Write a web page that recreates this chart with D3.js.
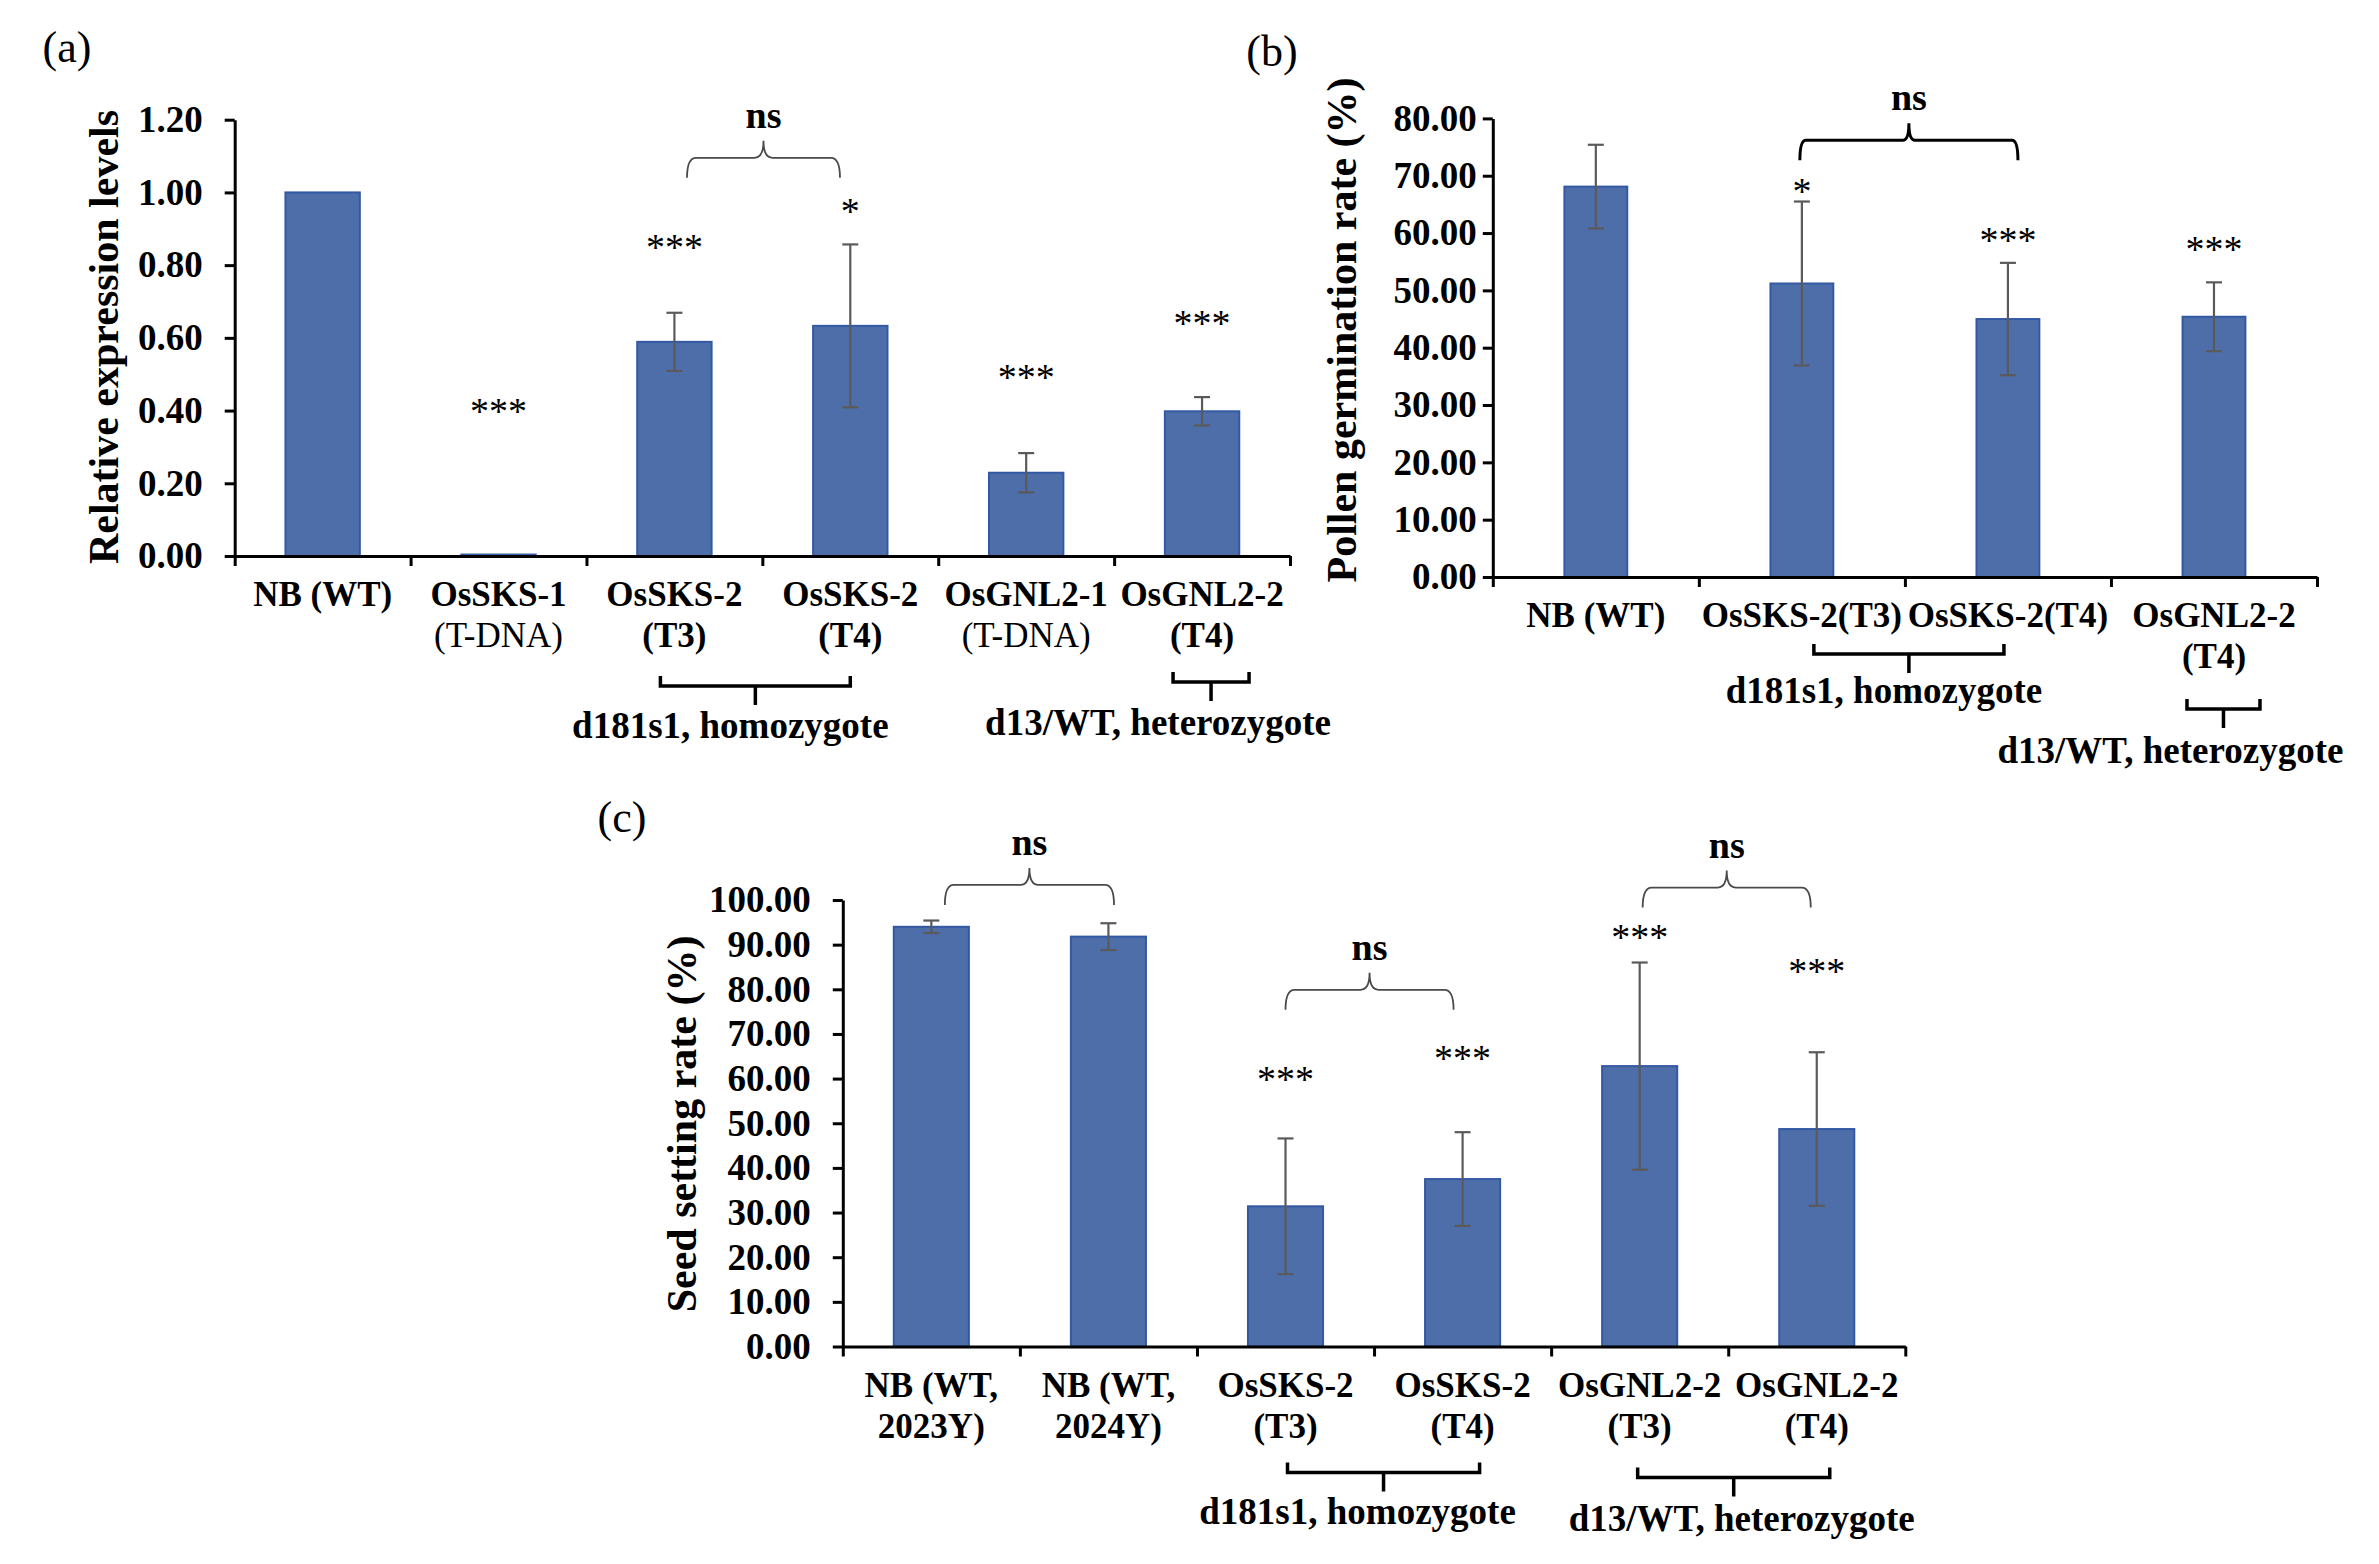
<!DOCTYPE html>
<html>
<head>
<meta charset="utf-8">
<script src="https://cdn.jsdelivr.net/npm/d3@7"></script>
<style>
  body { margin: 0; background: #fff; }
  svg { display: block; }
  text { font-family: "Liberation Serif", "Times New Roman", serif; fill: #000; }
</style>
</head>
<body>
<svg id="fig" width="2379" height="1564"></svg>
<script>
// ---- data: (a) relative expression levels
const catsA = [["NB (WT)"], ["OsSKS-1", "(T-DNA)"], ["OsSKS-2", "(T3)"], ["OsSKS-2", "(T4)"], ["OsGNL2-1", "(T-DNA)"], ["OsGNL2-2", "(T4)"]];
const valsA = [1.0, 0.004, 0.589, 0.633, 0.229, 0.398];
const errsA = [0, 0, 0.08, 0.224, 0.054, 0.039];
const sigA = ["", "***", "***", "*", "***", "***"];
const ticksA = [0, 0.2, 0.4, 0.6, 0.8, 1.0, 1.2];
const groupsA = ["d181s1, homozygote", "d13/WT, heterozygote"];
const groupSpanA = [[2, 3], [5, 5]];
const nsPairsA = [[2, 3]];

// ---- data: (b) pollen germination rate
const catsB = [["NB (WT)"], ["OsSKS-2(T3)"], ["OsSKS-2(T4)"], ["OsGNL2-2", "(T4)"]];
const valsB = [68.1, 51.2, 45.0, 45.4];
const errsB = [7.3, 14.3, 9.8, 6.0];
const sigB = ["", "*", "***", "***"];
const ticksB = [0, 10, 20, 30, 40, 50, 60, 70, 80];
const groupsB = ["d181s1, homozygote", "d13/WT, heterozygote"];
const groupSpanB = [[1, 2], [3, 3]];
const nsPairsB = [[1, 2]];

// ---- data: (c) seed setting rate
const catsC = [["NB (WT,", "2023Y)"], ["NB (WT,", "2024Y)"], ["OsSKS-2", "(T3)"], ["OsSKS-2", "(T4)"], ["OsGNL2-2", "(T3)"], ["OsGNL2-2", "(T4)"]];
const valsC = [94.0, 91.8, 31.4, 37.5, 62.8, 48.7];
const errsC = [1.4, 3.0, 15.2, 10.5, 23.2, 17.2];
const sigC = ["", "", "***", "***", "***", "***"];
const ticksC = [0, 10, 20, 30, 40, 50, 60, 70, 80, 90, 100];
const groupsC = ["d181s1, homozygote", "d13/WT, heterozygote"];
const groupSpanC = [[2, 3], [4, 5]];
const nsPairsC = [[0, 1], [2, 3], [4, 5]];

const barFill = "#4e6ea9",
  barEdge = "#3359a3",
  errColor = "#5a5a5a";

const svg = d3.select("#fig");
svg.append("rect").attr("width", 2379).attr("height", 1564).attr("fill", "#fff");

function brace(x1, x2, yEnd, rise, peak, r) {
  const yH = yEnd - rise, xm = (x1 + x2) / 2;
  return `M${x1},${yEnd} Q${x1},${yH} ${x1 + r},${yH} H${xm - r} Q${xm},${yH} ${xm},${yH - peak}` +
    ` Q${xm},${yH} ${xm + r},${yH} H${x2 - r} Q${x2},${yH} ${x2},${yEnd}`;
}

function drawPanel(p) {
  const n = p.cats.length;
  const x = d3.scaleBand().domain(d3.range(n)).range([p.x0, p.x1])
    .paddingInner(p.pad).paddingOuter(p.pad / 2);
  const y = d3.scaleLinear().domain([0, p.max]).range([p.yBot, p.yTop]);
  const cx = (i) => x(i) + x.bandwidth() / 2;
  const g = svg.append("g");

  // bars
  g.selectAll("rect.bar")
    .data(p.vals)
    .join("rect")
    .attr("x", (d, i) => x(i))
    .attr("y", (d) => y(d))
    .attr("width", x.bandwidth())
    .attr("height", (d) => y(0) - y(d))
    .attr("fill", barFill)
    .attr("stroke", barEdge)
    .attr("stroke-width", 2);

  // error bars
  const errData = p.vals.map((v, i) => ({ v, e: p.errs[i], i })).filter((d) => d.e > 0);
  const eb = g.selectAll("g.err").data(errData).join("g")
    .attr("stroke", errColor).attr("stroke-width", 2.2);
  eb.append("line")
    .attr("x1", (d) => cx(d.i)).attr("x2", (d) => cx(d.i))
    .attr("y1", (d) => y(d.v - d.e)).attr("y2", (d) => y(d.v + d.e));
  [1, -1].forEach((s) => {
    eb.append("line")
      .attr("x1", (d) => cx(d.i) - 8).attr("x2", (d) => cx(d.i) + 8)
      .attr("y1", (d) => y(d.v + s * d.e)).attr("y2", (d) => y(d.v + s * d.e));
  });

  // y axis
  const yAxis = d3.axisLeft(y).tickValues(p.ticks).tickFormat(d3.format(".2f"))
    .tickSize(10).tickSizeOuter(0).tickPadding(p.tickPad);
  const ya = g.append("g").attr("transform", `translate(${p.x0},0)`).call(yAxis);
  ya.select(".domain").attr("stroke-width", 3);
  ya.selectAll(".tick line").attr("stroke-width", 3);
  ya.selectAll(".tick text").attr("font-size", 37).attr("font-weight", "bold")
    .attr("font-family", "Liberation Serif, serif").attr("fill", "#000");

  // x axis, ticks at category boundaries
  const xb = d3.scaleLinear().domain([0, n]).range([p.x0, p.x1]);
  const xAxis = d3.axisBottom(xb).tickValues(d3.range(n + 1)).tickFormat("")
    .tickSize(10).tickSizeOuter(0);
  const xa = g.append("g").attr("transform", `translate(0,${p.yBot})`).call(xAxis);
  xa.select(".domain").attr("stroke-width", 3);
  xa.selectAll(".tick line").attr("stroke-width", 3);

  // category labels
  const lab = g.selectAll("text.cat").data(p.cats).join("text")
    .attr("text-anchor", "middle").attr("font-size", 35);
  lab.each(function (lines, i) {
    lines.forEach((t, k) => {
      d3.select(this).append("tspan")
        .attr("x", cx(i))
        .attr("y", p.yBot + (k === 0 ? 50 : 91))
        .attr("font-weight", t === "(T-DNA)" ? "normal" : "bold")
        .text(t);
    });
  });

  // significance stars
  g.selectAll("text.sig").data(p.sig).join("text")
    .attr("x", (d, i) => cx(i))
    .attr("y", (d, i) => (d ? y(p.sigPos[i]) + 17 : 0))
    .attr("text-anchor", "middle").attr("font-size", 38)
    .text((d) => d);

  // ns comparison braces
  p.ns.forEach((pair, k) => {
    const o = p.nsLay[k];
    const x1 = cx(pair[0]) + o.dl, x2 = cx(pair[1]) + o.dr;
    const yEnd = y(o.v);
    g.append("path")
      .attr("d", brace(x1, x2, yEnd, 20, 17, p.nsThick ? 6 : 9))
      .attr("fill", "none")
      .attr("stroke", p.nsThick ? "#000" : "#4a4a4a")
      .attr("stroke-width", p.nsThick ? 3 : 1.8);
    g.append("text")
      .attr("x", (x1 + x2) / 2).attr("y", yEnd - 37 - 22 + 9)
      .attr("text-anchor", "middle").attr("font-size", 38).attr("font-weight", "bold")
      .text("ns");
  });

  // genotype group brackets
  p.groups.forEach((name, k) => {
    const span = p.groupSpan[k], o = p.groupLay[k];
    const x1 = cx(span[0]) + o.dl, x2 = cx(span[1]) + o.dr;
    const yH = p.yBot + o.h, xm = (x1 + x2) / 2;
    g.append("path")
      .attr("d", `M${x1},${yH - 10} V${yH} H${x2} V${yH - 10} M${xm},${yH} V${yH + 19}`)
      .attr("fill", "none").attr("stroke", "#000").attr("stroke-width", 3.5);
    g.append("text")
      .attr("x", xm + o.tdx).attr("y", p.yBot + o.t + 11)
      .attr("text-anchor", "middle").attr("font-size", 37).attr("font-weight", "bold")
      .text(name);
  });

  // axis title
  g.append("text")
    .attr("transform", `translate(${p.titleX},${p.titleY}) rotate(-90)`)
    .attr("text-anchor", "middle").attr("font-size", 42).attr("font-weight", "bold")
    .text(p.title);

  // panel letter
  svg.append("text")
    .attr("x", p.letterX).attr("y", p.letterY)
    .attr("text-anchor", "middle").attr("font-size", 44)
    .text(p.letter);
}

drawPanel({
  cats: catsA, vals: valsA, errs: errsA, sig: sigA, ticks: ticksA, max: 1.2,
  groups: groupsA, groupSpan: groupSpanA, ns: nsPairsA,
  x0: 234.7, x1: 1290, yTop: 119.7, yBot: 556, pad: 0.577, tickPad: 22,
  sigPos: [0, 0.41, 0.862, 0.961, 0.503, 0.653],
  nsLay: [{ dl: 12.6, dr: -10.3, v: 1.04 }],
  groupLay: [{ dl: -14, dr: 0, h: 130, t: 171, tdx: -25 }, { dl: -29, dr: 47, h: 126, t: 168, tdx: -53 }],
  title: "Relative expression levels", titleX: 118, titleY: 337,
  letter: "(a)", letterX: 67, letterY: 62
});

drawPanel({
  cats: catsB, vals: valsB, errs: errsB, sig: sigB, ticks: ticksB, max: 80,
  groups: groupsB, groupSpan: groupSpanB, ns: nsPairsB, nsThick: true,
  x0: 1492.8, x1: 2317, yTop: 118.4, yBot: 577, pad: 0.695, tickPad: 6,
  sigPos: [0, 68.1, 59.4, 57.9],
  nsLay: [{ dl: -2, dr: 10, v: 72.7 }],
  groupLay: [{ dl: 12, dr: -4, h: 77, t: 114.5, tdx: -25 }, { dl: -27, dr: 46, h: 132, t: 175, tdx: -53 }],
  title: "Pollen germination rate (%)", titleX: 1356, titleY: 330,
  letter: "(b)", letterX: 1272, letterY: 66
});

drawPanel({
  cats: catsC, vals: valsC, errs: errsC, sig: sigC, ticks: ticksC, max: 100,
  groups: groupsC, groupSpan: groupSpanC, ns: nsPairsC,
  x0: 842.8, x1: 1905.3, yTop: 900, yBot: 1346.5, pad: 0.576, tickPad: 22,
  sigPos: [0, 0, 60.8, 65.5, 92.7, 85.1],
  nsLay: [{ dl: 13.5, dr: 5.6, v: 98.9 }, { dl: 0, dr: -9, v: 75.4 }, { dl: 3, dr: -6, v: 98.3 }],
  groupLay: [{ dl: 2, dr: 17, h: 126, t: 166, tdx: -26 }, { dl: -2, dr: 13, h: 131, t: 173.5, tdx: 8 }],
  title: "Seed setting rate (%)", titleX: 696, titleY: 1124,
  letter: "(c)", letterX: 622, letterY: 832
});
</script>
</body>
</html>
